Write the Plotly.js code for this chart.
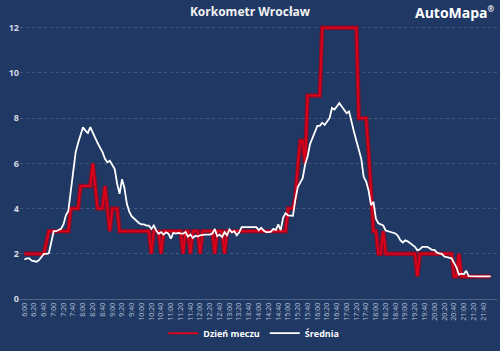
<!DOCTYPE html>
<html>
<head>
<meta charset="utf-8">
<script src="https://cdn.plot.ly/plotly-3.0.1.min.js"></script>
<style>
html,body{margin:0;padding:0;background:#1f3864;}
#chart{width:500px;height:351px;}
</style>
</head>
<body>
<div id="chart"></div>
<script>
// x categories: every 5 minutes from 6:00 to 21:55
var times = [
"6:00","6:05","6:10","6:15","6:20","6:25","6:30","6:35","6:40","6:45","6:50","6:55",
"7:00","7:05","7:10","7:15","7:20","7:25","7:30","7:35","7:40","7:45","7:50","7:55",
"8:00","8:05","8:10","8:15","8:20","8:25","8:30","8:35","8:40","8:45","8:50","8:55",
"9:00","9:05","9:10","9:15","9:20","9:25","9:30","9:35","9:40","9:45","9:50","9:55",
"10:00","10:05","10:10","10:15","10:20","10:25","10:30","10:35","10:40","10:45","10:50","10:55",
"11:00","11:05","11:10","11:15","11:20","11:25","11:30","11:35","11:40","11:45","11:50","11:55",
"12:00","12:05","12:10","12:15","12:20","12:25","12:30","12:35","12:40","12:45","12:50","12:55",
"13:00","13:05","13:10","13:15","13:20","13:25","13:30","13:35","13:40","13:45","13:50","13:55",
"14:00","14:05","14:10","14:15","14:20","14:25","14:30","14:35","14:40","14:45","14:50","14:55",
"15:00","15:05","15:10","15:15","15:20","15:25","15:30","15:35","15:40","15:45","15:50","15:55",
"16:00","16:05","16:10","16:15","16:20","16:25","16:30","16:35","16:40","16:45","16:50","16:55",
"17:00","17:05","17:10","17:15","17:20","17:25","17:30","17:35","17:40","17:45","17:50","17:55",
"18:00","18:05","18:10","18:15","18:20","18:25","18:30","18:35","18:40","18:45","18:50","18:55",
"19:00","19:05","19:10","19:15","19:20","19:25","19:30","19:35","19:40","19:45","19:50","19:55",
"20:00","20:05","20:10","20:15","20:20","20:25","20:30","20:35","20:40","20:45","20:50","20:55",
"21:00","21:05","21:10","21:15","21:20","21:25","21:30","21:35","21:40","21:45","21:50","21:55"
];

var tickLabels = [
"6:00","6:20","6:40","7:00","7:20","7:40","8:00","8:20","8:40","9:00","9:20","9:40",
"10:00","10:20","10:40","11:00","11:20","11:40","12:00","12:20","12:40","13:00","13:20","13:40",
"14:00","14:20","14:40","15:00","15:20","15:40","16:00","16:20","16:40","17:00","17:20","17:40",
"18:00","18:20","18:40","19:00","19:20","19:40","20:00","20:20","20:40","21:00","21:20","21:40"
];

var yTicks = [0, 2, 4, 6, 8, 10, 12];

// "Dzień meczu"
var matchDay = [
2,2,2,2,2,2,2,2,2,2.5,3,3,
3,3,3,3,3,3,3,4,4,4,4,5,
5,5,5,5,6,5,4,4,4,5,4,3,
4,4,4,3,3,3,3,3,3,3,3,3,
3,3,3,3,2,3,3,3,2,3,3,3,
3,3,3,3,3,2,3,3,2,3,3,3,
2,3,3,3,3,3,2,3,3,3,2,3,
3,3,3,3,3,3,3,3,3,3,3,3,
3,3,3,3,3,3,3,3,3,3,3,3,
4,4,4,4.5,6,7,7,6,9,9,9,9,
9,9,12,12,12,12,12,12,12,12,12,12,
12,12,12,12,12,8,8,8,8,6.5,4.5,3,
3,2,2,3,2,2,2,2,2,2,2,2,
2,2,2,2,2,1,2,2,2,2,2,2,
2,2,2,2,2,2,2,2,1,1,2,1,
1,1,1,1,1,1,1,1,1,1,1,1
];

// "Średnia"
var average = [
1.75,1.8,1.8,1.7,1.68,1.65,1.72,1.85,2.0,2.0,2.02,2.5,
3.0,3.0,3.05,3.1,3.3,3.7,3.9,4.8,5.5,6.5,6.9,7.25,
7.6,7.45,7.35,7.6,7.35,7.1,6.9,6.7,6.5,6.2,6.05,6.12,
5.95,5.75,5.1,4.65,5.3,4.9,4.2,3.85,3.65,3.55,3.47,3.35,
3.3,3.3,3.25,3.25,3.1,3.25,3.03,2.89,2.96,2.85,2.95,2.89,
2.67,2.93,2.89,2.92,2.9,2.89,2.96,2.76,2.85,2.7,2.8,2.76,
2.82,2.85,2.85,2.85,2.85,2.9,3.1,2.78,2.85,2.74,2.96,2.82,
3.08,2.95,3.0,2.82,2.95,3.18,3.18,3.18,3.18,3.18,3.18,3.18,
3.05,3.15,3.03,2.96,2.96,2.98,3.1,3.05,3.3,3.05,3.6,3.8,
3.7,3.68,3.68,4.4,4.95,5.15,5.35,5.95,6.3,6.85,7.15,7.45,
7.66,7.66,7.8,7.7,7.87,8.0,8.45,8.38,8.52,8.67,8.52,8.35,
8.22,8.3,7.8,7.4,7.0,6.55,6.2,5.4,5.2,4.8,4.15,4.3,
3.55,3.35,3.3,3.25,3.03,3.0,2.96,2.96,2.9,2.8,2.6,2.5,
2.6,2.55,2.46,2.38,2.31,2.15,2.2,2.31,2.31,2.31,2.25,2.17,
2.17,2.05,2.02,2.0,1.88,1.85,1.82,1.8,1.6,1.4,1.08,1.12,
1.1,1.25,1.01,1.0,1.0,1.0,1.0,1.0,1.0,1.0,1.0,1.0
];

var BG = '#1f3864';
var FONT = 'Open Sans, Noto Sans, sans-serif';

var traces = [
  {x: times, y: matchDay, type: 'scatter', mode: 'lines', showlegend: false, hoverinfo: 'skip',
   line: {color: 'rgba(140,10,35,0.9)', width: 4.5}},
  {x: times, y: matchDay, type: 'scatter', mode: 'lines', name: 'Dzień meczu',
   line: {color: '#dc0018', width: 2}},
  {x: times, y: average, type: 'scatter', mode: 'lines', name: 'Średnia',
   line: {color: '#ffffff', width: 1.8}}
];

var layout = {
  width: 500, height: 351,
  paper_bgcolor: BG, plot_bgcolor: BG,
  margin: {l: 20, r: 3, t: 21, b: 46},
  font: {family: FONT, color: '#ffffff'},
  title: {text: 'Korkometr Wrocław', x: 0.5, xref: 'container', xanchor: 'center',
          y: 1 - 12/351, yref: 'container', yanchor: 'middle',
          font: {family: FONT, size: 12, weight: 'bold', color: '#f2f2f2'}},
  xaxis: {type: 'category', range: [-1.8, 193.6], tickmode: 'array',
          tickvals: tickLabels, ticktext: tickLabels, tickangle: -90,
          tickfont: {family: FONT, size: 7, color: '#b9c3d6'},
          showgrid: false, zeroline: false, showline: true,
          linecolor: 'rgba(255,255,255,0.22)', linewidth: 1, ticks: '', fixedrange: true},
  yaxis: {range: [0, 12.3], tickmode: 'array', tickvals: yTicks,
          tickfont: {family: FONT, size: 9, weight: 'bold', color: '#d3d9e4'},
          showgrid: true, gridcolor: 'rgba(255,255,255,0.16)', griddash: 'dot', gridwidth: 1,
          zeroline: false, showline: false, ticks: '', fixedrange: true},
  legend: {orientation: 'h', x: 0.49, xanchor: 'center', y: -0.123, yanchor: 'middle',
           bgcolor: 'rgba(0,0,0,0)', itemwidth: 30,
           font: {family: FONT, size: 9, weight: 'bold', color: '#ffffff'}},
  annotations: [
    {text: 'AutoMapa<sup><span style="font-size:8px">®</span></sup>', xref: 'paper', yref: 'paper', x: 1, xanchor: 'right',
     y: (305 - 12) / 284, yanchor: 'middle', showarrow: false,
     font: {family: FONT, size: 14, weight: 'bold', color: '#ffffff'}}
  ]
};

Plotly.newPlot('chart', traces, layout, {staticPlot: true, displayModeBar: false});
</script>
</body>
</html>
